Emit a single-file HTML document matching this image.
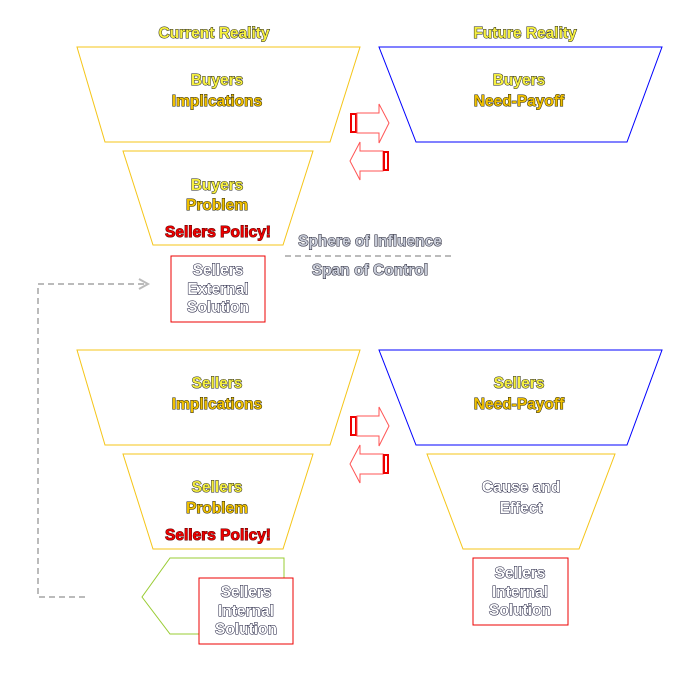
<!DOCTYPE html>
<html><head><meta charset="utf-8"><style>
body{margin:0;background:#fff}
svg text{font-family:"Liberation Sans",sans-serif;font-weight:bold;font-size:15.5px;text-anchor:middle;stroke-width:1;paint-order:stroke}
.y{fill:#f6f040;stroke:#222}
.g{fill:#f0c000;stroke:#221}
.r{fill:#ee0000;stroke:#500}
.w{fill:#fff;stroke:#113}
.s{fill:#c8ccd8;stroke:#223}
</style></head><body>
<svg width="685" height="672" viewBox="0 0 685 672" xmlns="http://www.w3.org/2000/svg">
<g fill="none" stroke-width="1">
<polygon points="77,47 360,47 330,142 105,142" stroke="#f5c518"/>
<polygon points="379,47 662,47 627,142 416,142" stroke="#0000ff"/>
<polygon points="123,151 313,151 283,245 153,245" stroke="#f5c518"/>
<rect x="171" y="256" width="94" height="66" stroke="#e00"/>
<polygon points="77,350 360,350 330,445 105,445" stroke="#f5c518"/>
<polygon points="379,350 662,350 627,445 416,445" stroke="#0000ff"/>
<polygon points="123,454 313,454 283,549 153,549" stroke="#f5c518"/>
<polygon points="427,454 615,454 579,549 463,549" stroke="#f5c518"/>
<rect x="473" y="558" width="95" height="67" stroke="#e00"/>
<polygon points="284,558 170,558 142,597 170,634 284,634" stroke="#9c3"/>
<rect x="199" y="578" width="94" height="66" fill="#fff" stroke="#e00"/>
<line x1="285" y1="256" x2="455" y2="256" stroke="#bbb" stroke-dasharray="6,4" stroke-width="2"/>
<polyline points="85,597 38,597 38,284 145,284" stroke="#bbb" stroke-dasharray="6,4" stroke-width="2"/>
<polyline points="139,279 148,284 139,289" stroke="#bbb" stroke-width="2"/>
</g>
<g>
<rect x="350" y="113" width="7" height="20" fill="#e00"/>
<polygon points="357,113 379,113 379,104 389,123 379,143 379,133 357,133" fill="#fff" stroke="#f55"/>
<rect x="352" y="115" width="3" height="16" fill="#fff"/>
<polygon points="383,151 360,151 360,142 350,161 360,180 360,171 383,171" fill="#fff" stroke="#f55"/>
<rect x="383" y="151" width="6" height="20" fill="#e00"/><rect x="385" y="153" width="2" height="16" fill="#fff"/>
<g transform="translate(0,303)">
<rect x="350" y="113" width="7" height="20" fill="#e00"/>
<polygon points="357,113 379,113 379,104 389,123 379,143 379,133 357,133" fill="#fff" stroke="#f55"/>
<rect x="352" y="115" width="3" height="16" fill="#fff"/>
<polygon points="383,151 360,151 360,142 350,161 360,180 360,171 383,171" fill="#fff" stroke="#f55"/>
<rect x="383" y="151" width="6" height="20" fill="#e00"/><rect x="385" y="153" width="2" height="16" fill="#fff"/>
</g>
</g>
<text x="214" y="38" class="y">Current Reality</text>
<text x="525" y="38" class="y">Future Reality</text>
<text x="217" y="85" class="y">Buyers</text>
<text x="217" y="106" class="g">Implications</text>
<text x="519" y="85" class="y">Buyers</text>
<text x="519" y="106" class="g">Need-Payoff</text>
<text x="217" y="190" class="y">Buyers</text>
<text x="217" y="210" class="g">Problem</text>
<text x="218" y="237" class="r">Sellers Policy!</text>
<text x="370" y="246" class="s">Sphere of Influence</text>
<text x="370" y="275" class="s">Span of Control</text>
<text x="218" y="275" class="w">Sellers</text>
<text x="218" y="294" class="w">External</text>
<text x="218" y="312" class="w">Solution</text>
<text x="217" y="388" class="y">Sellers</text>
<text x="217" y="409" class="g">Implications</text>
<text x="519" y="388" class="y">Sellers</text>
<text x="519" y="409" class="g">Need-Payoff</text>
<text x="217" y="492" class="y">Sellers</text>
<text x="217" y="513" class="g">Problem</text>
<text x="218" y="540" class="r">Sellers Policy!</text>
<text x="521" y="492" class="w">Cause and</text>
<text x="521" y="513" class="w">Effect</text>
<text x="520" y="578" class="w">Sellers</text>
<text x="520" y="597" class="w">Internal</text>
<text x="520" y="615" class="w">Solution</text>
<text x="246" y="597" class="w">Sellers</text>
<text x="246" y="616" class="w">Internal</text>
<text x="246" y="634" class="w">Solution</text>
</svg>
</body></html>
